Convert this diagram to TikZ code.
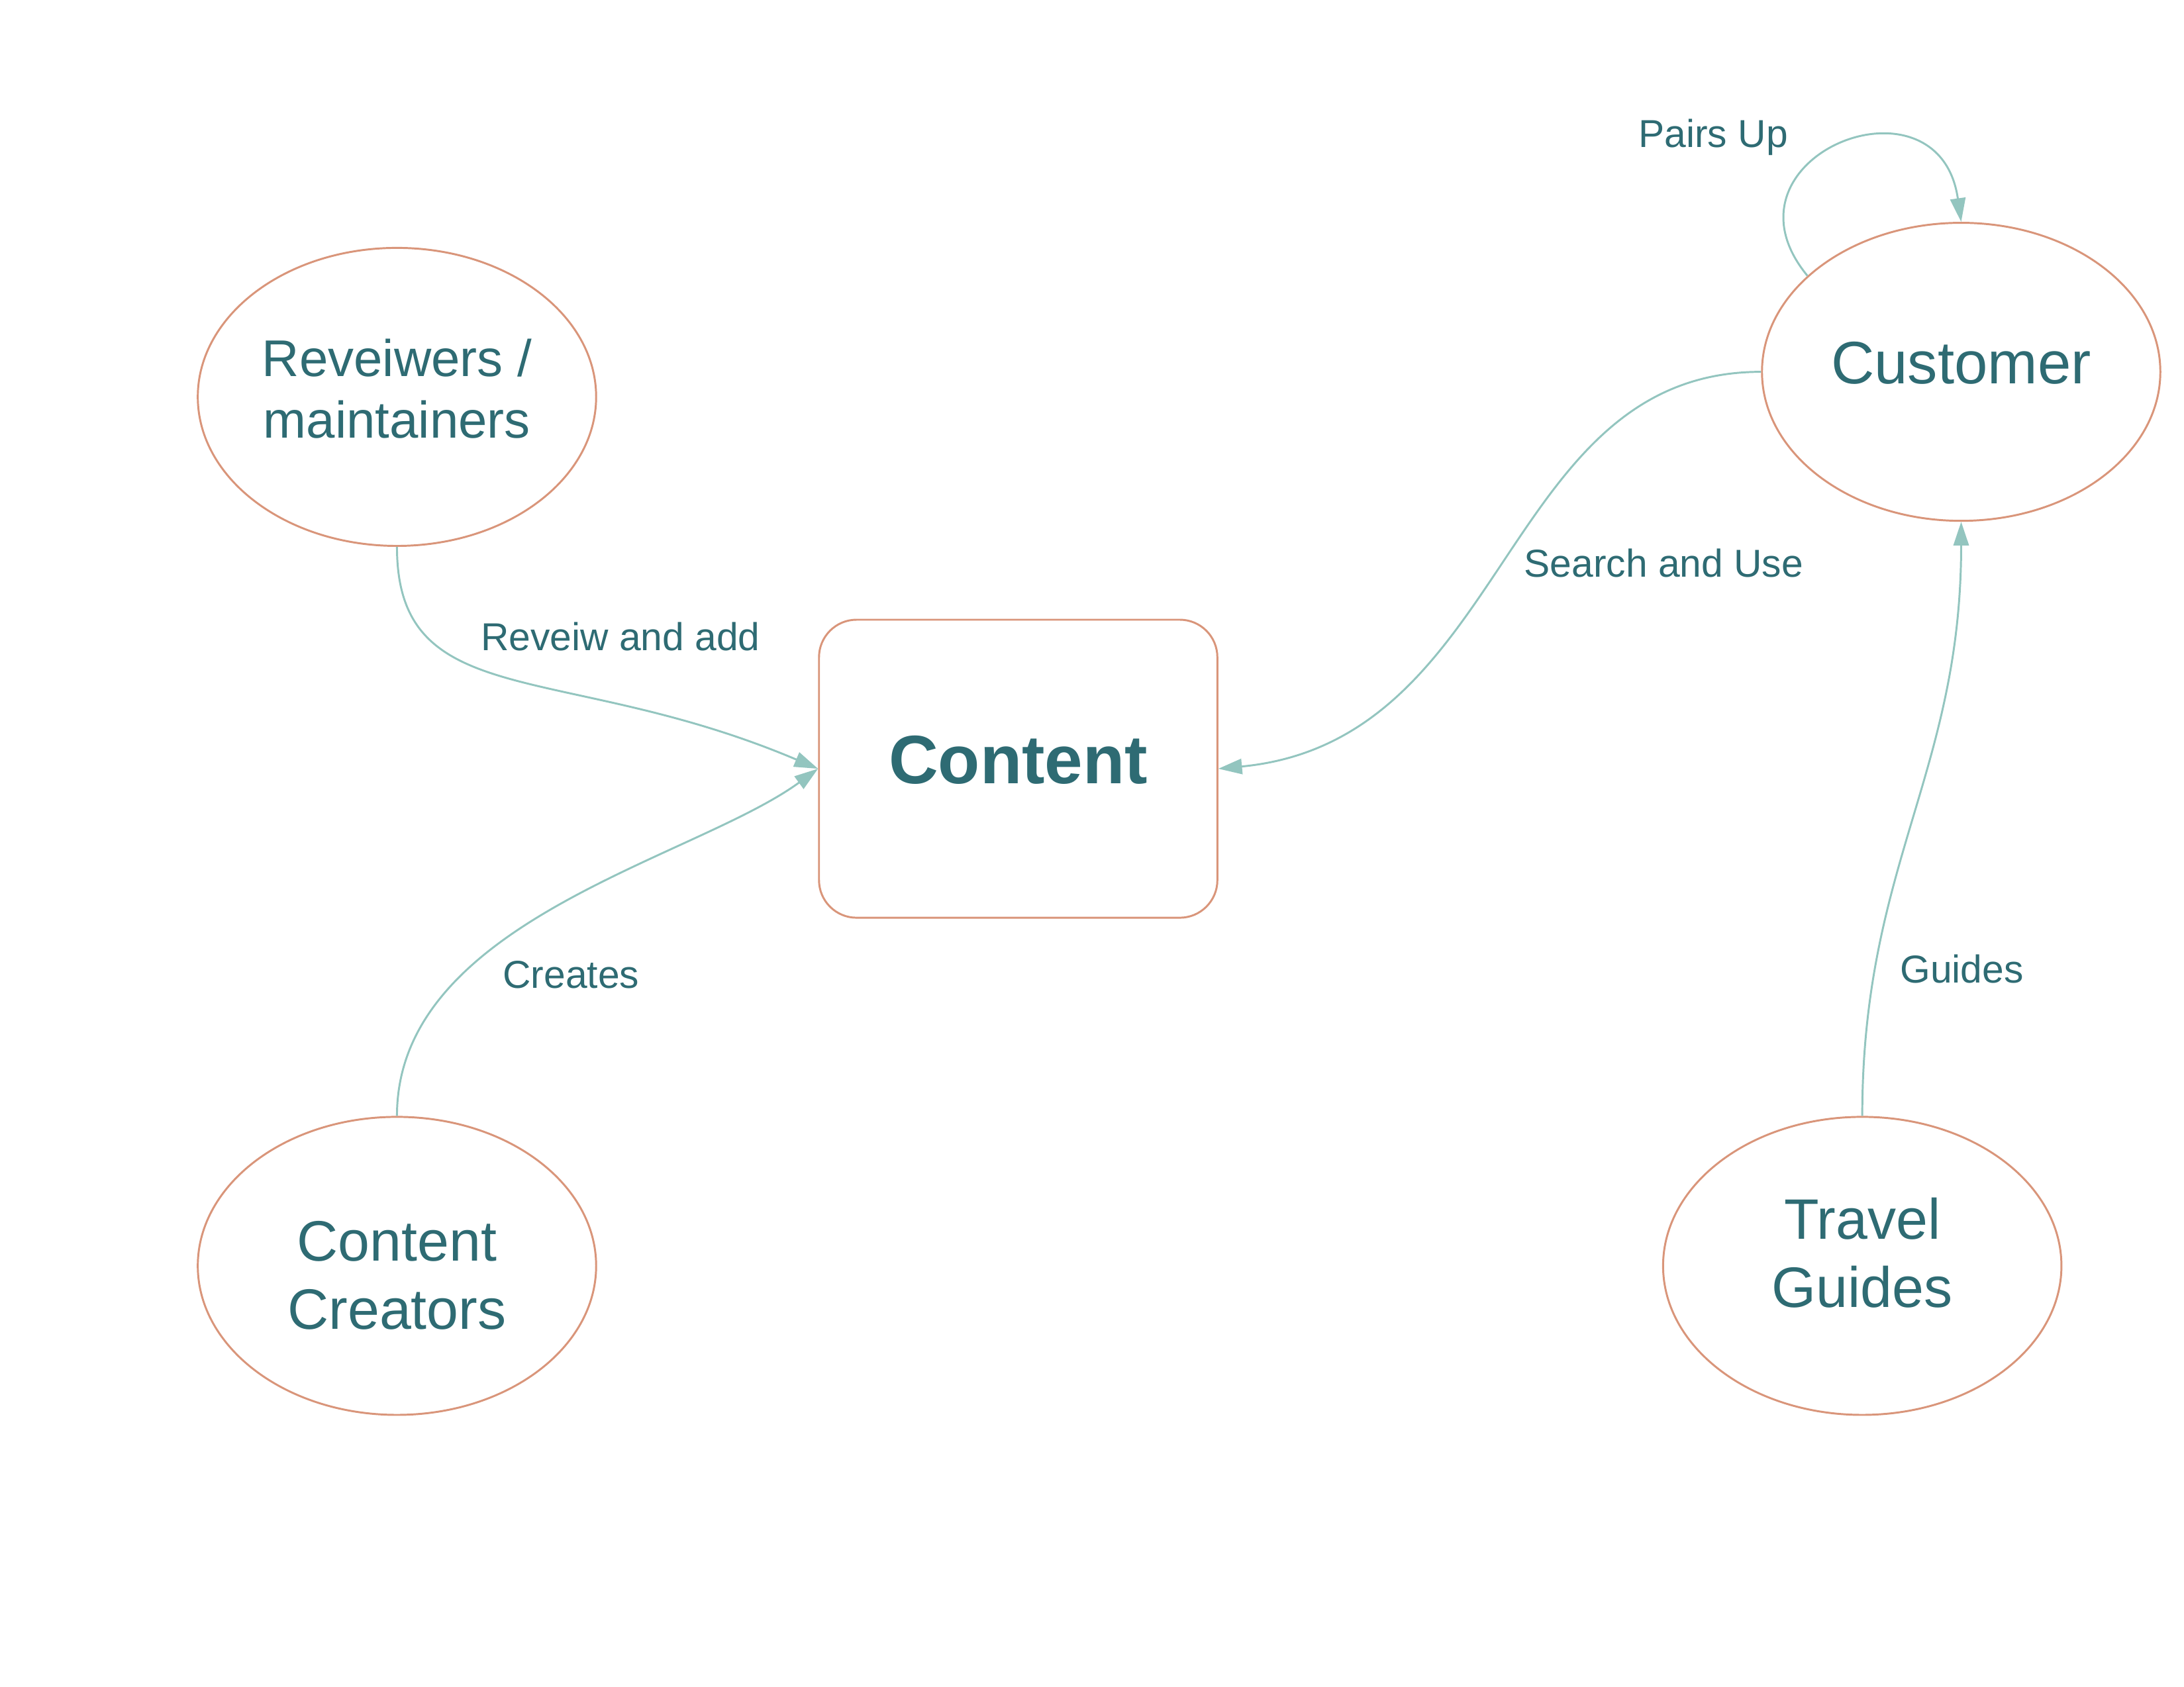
\documentclass[tikz,border=0pt]{standalone}
\usepackage{fontspec}
\setmainfont{Liberation Sans}
\usetikzlibrary{shapes.geometric,arrows.meta}
\definecolor{ink}{HTML}{2E6B73}
\definecolor{rim}{HTML}{D9957A}
\definecolor{wire}{HTML}{93C5BF}

\begin{document}
\begin{tikzpicture}[x=0.2mm,y=-0.2mm,
    actor/.style={ellipse,draw=rim,line width=0.8pt,minimum width=57.2mm,minimum height=42.8mm,inner sep=0pt,text=ink,align=center},
    store/.style={rectangle,rounded corners=5.4mm,draw=rim,line width=0.8pt,minimum width=57.2mm,minimum height=42.8mm,text=ink},
    flow/.style={draw=wire,line width=0.8pt,-{Triangle[length=3.4mm,width=2.2mm]}},
    tag/.style={text=ink,anchor=base,font=\fontsize{15.9pt}{19pt}\selectfont}]
  \useasboundingbox (0,0) rectangle (1568,1211.4);
  \node[actor,font=\fontsize{21.1pt}{25.3pt}\selectfont,text depth=6.9pt] (rev) at (285,285) {Reveiwers /\\maintainers};
  \node[actor,font=\fontsize{23.3pt}{27.9pt}\selectfont,text height=52.1pt] (cc) at (285,909) {Content\\Creators};
  \node[actor,font=\fontsize{24.5pt}{29pt}\selectfont,text depth=7.6pt] (cust) at (1408,267) {Customer};
  \node[actor,font=\fontsize{23.3pt}{27.9pt}\selectfont,text depth=10.7pt] (tg) at (1337,909) {Travel\\Guides};
  \node[store,font=\fontsize{28pt}{34pt}\selectfont\bfseries,text depth=7.5pt] (content) at (731,552) {Content};
  \node[tag] (lrev) at (445.5,467) {Reveiw and add};
  \node[tag] (lcc) at (410,709.5) {Creates};
  \node[tag] (lcust) at (1194.5,414.5) {Search and Use};
  \node[tag] (lpair) at (1230,106) {Pairs Up};
  \node[tag] (ltg) at (1408.5,706) {Guides};
  \draw[flow] (rev.south) .. controls +(0,120) and +(-184,-78) .. (content.west);
  \draw[flow] (cc.north) .. controls +(0,-140) and +(-89,65) .. (content.west);
  \draw[flow] (cust.west) .. controls +(-187,0) and +(210,-20) .. (content.east);
  \draw[flow] (tg.north) .. controls +(0,-180) and +(0,180) .. (cust.south);
  \draw[flow] (cust.148) .. controls +(-70,-85) and +(-16,-112) .. (cust.north);
\end{tikzpicture}
\end{document}
